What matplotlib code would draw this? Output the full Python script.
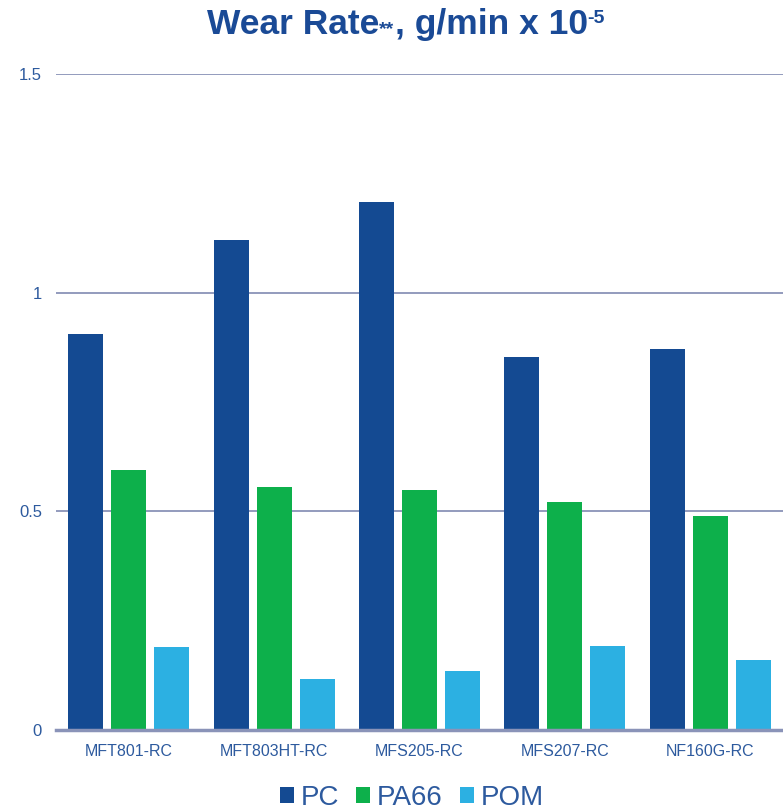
import matplotlib
matplotlib.use("Agg")
import matplotlib.pyplot as plt
import numpy as np
from matplotlib.patches import Patch

plt.rcParams['font.family'] = ['Liberation Sans', 'DejaVu Sans']

categories = ["MFT801-RC", "MFT803HT-RC", "MFS205-RC", "MFS207-RC", "NF160G-RC"]
series_names = ["PC", "PA66", "POM"]
pc = [0.906, 1.121, 1.207, 0.853, 0.871]
pa66 = [0.595, 0.556, 0.549, 0.521, 0.489]
pom = [0.190, 0.117, 0.135, 0.192, 0.160]
yticks = [0, 0.5, 1, 1.5]
ytick_labels = ["0", "0.5", "1", "1.5"]

colors = ["#144a92", "#0db04b", "#2cb0e2"]
text_col = "#2d5a9e"
grid_col = "#8a93b8"
title_col = "#1a4a96"

fig = plt.figure(figsize=(7.83, 8.10), dpi=100)
ax = fig.add_axes([56/783, 1-730/810, 1-56/783, (730-74)/810])

x = np.arange(len(categories))
w = 0.24
off = 0.296
for i, (vals, c) in enumerate(zip([pc, pa66, pom], colors)):
    ax.bar(x + (i-1)*off, vals, width=w, color=c, zorder=3)

ax.set_xlim(-0.5, len(categories)-0.5)
ax.set_ylim(0, 1.5)
ax.set_yticks(yticks)
ax.set_yticklabels(ytick_labels)
ax.set_xticks(x)
ax.set_xticklabels(categories)
ax.tick_params(axis='both', length=0, colors=text_col)
ax.tick_params(axis='y', pad=10, labelsize=12)
ax.tick_params(axis='x', pad=10, labelsize=11.5)
for s in ax.spines.values():
    s.set_visible(False)
ax.yaxis.grid(True, color=grid_col, linewidth=1.3, zorder=0)
ax.axhline(0, color=grid_col, linewidth=2.5, zorder=4, clip_on=False)
ax.set_facecolor('none')

# Title built from pieces
fig.canvas.draw()
renderer = fig.canvas.get_renderer()
pieces = [("Wear Rate", 25.5, 0), ("**", 14, 0), (", g/min x 10", 25.5, 0), ("-5", 14, 11)]
objs = []
for txt, fs, dy in pieces:
    t = fig.text(0, 0, txt, fontsize=fs, fontweight='bold', color=title_col, va='baseline', ha='left')
    objs.append((t, dy))
fig.canvas.draw()
widths = [t.get_window_extent(renderer).width for t, _ in objs]
total = sum(widths)
cx = 406
x0 = cx - total/2
base_y = 810 - 34
for (t, dy), wd in zip(objs, widths):
    t.set_position((x0/783, (base_y+dy)/810))
    x0 += wd

handles = [Patch(facecolor=c, edgecolor='none') for c in colors]
leg = fig.legend(handles, series_names, loc='center', bbox_to_anchor=(412/783, 1-798/810),
                 ncol=3, frameon=False, fontsize=20, handlelength=0.5, handleheight=0.5,
                 handletextpad=0.25, columnspacing=0.6, labelcolor=text_col, borderaxespad=0)

fig.savefig("out.png", dpi=100)
